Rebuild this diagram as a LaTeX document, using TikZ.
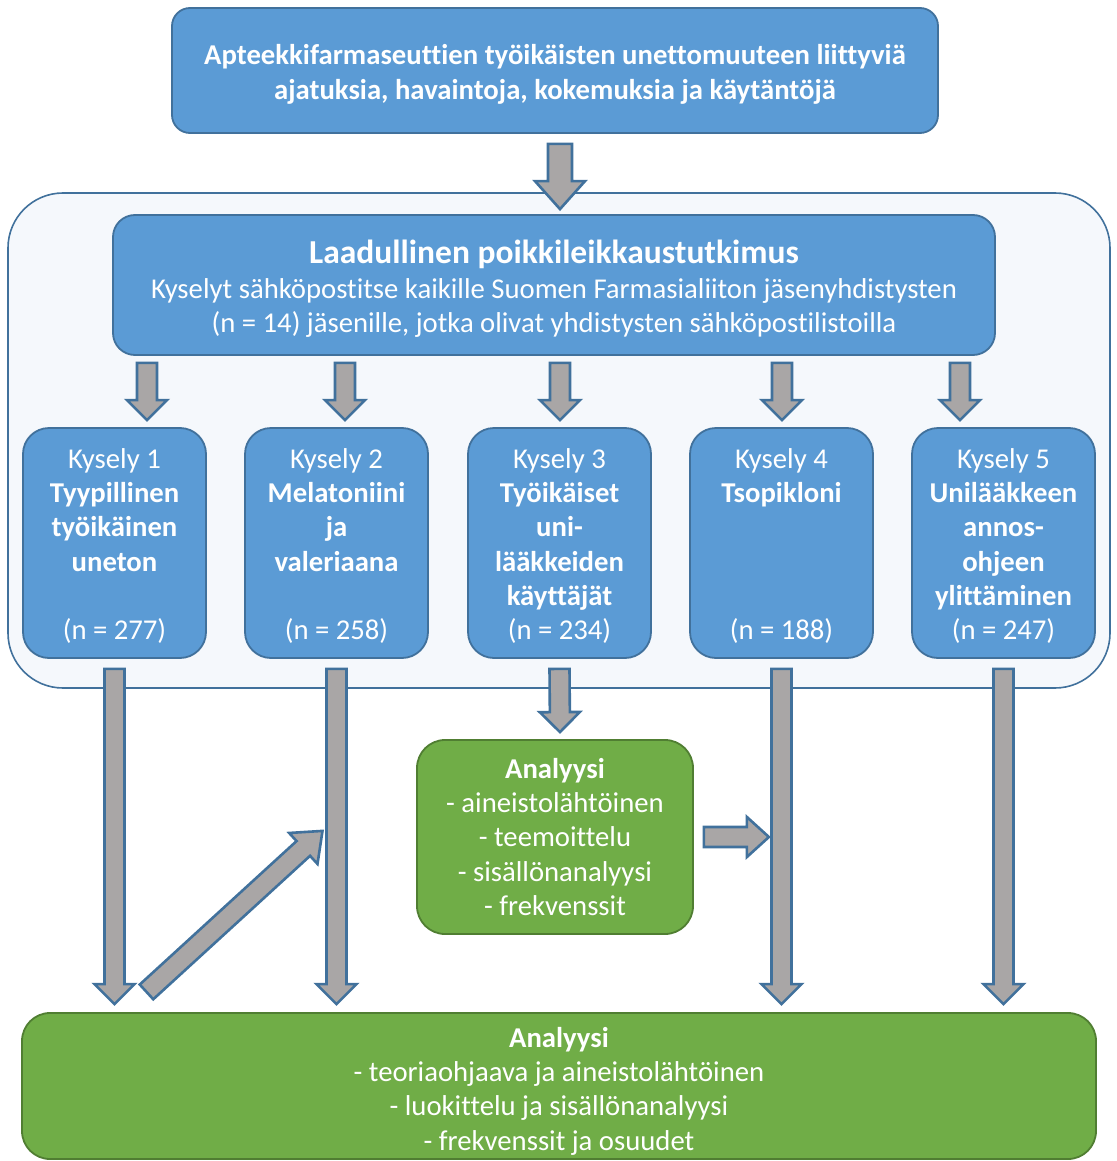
\documentclass[tikz,border=0pt]{standalone}
\usepackage{fontspec}
\setmainfont{Carlito}[Ligatures=NoCommon]
\usetikzlibrary{calc}
\definecolor{fillblue}{HTML}{5B9BD5}
\definecolor{bordblue}{HTML}{41719C}
\definecolor{outerfill}{HTML}{F5F8FC}
\definecolor{fillgreen}{HTML}{70AD47}
\definecolor{bordgreen}{HTML}{507E32}
\definecolor{arrgray}{HTML}{A9A6A6}
\tikzset{
  bluebox/.style={draw=bordblue, line width=1.8pt, fill=fillblue, text=white, align=center, inner sep=0pt, rounded corners=22pt},
  greenbox/.style={draw=bordgreen, line width=1.8pt, fill=fillgreen, text=white, align=center, inner sep=0pt, rounded corners=28pt},
  kysbox/.style={bluebox, minimum width=183pt, minimum height=230pt, rounded corners=26pt},
  blockarr/.style={draw=bordblue, line width=2.6pt, fill=arrgray, line join=miter},
  bodyfont/.style={font=\fontsize{28.7}{34.3}\selectfont},
}
\newcommand\barrow[5]{%
  \coordinate (baS) at #1;
  \coordinate (baE) at #2;
  \coordinate (baN) at ($(baE)!#5!(baS)$);
  \draw[blockarr] ($(baS)!#3!90:(baE)$) -- ($(baN)!#3!90:(baE)$) -- ($(baN)!#4!90:(baE)$) -- (baE)
     -- ($(baN)!#4!-90:(baE)$) -- ($(baN)!#3!-90:(baE)$) -- ($(baS)!#3!-90:(baE)$) -- cycle;
}
\begin{document}
\begin{tikzpicture}[x=1pt, y=-1pt]
\useasboundingbox (0,0) rectangle (1116,1161);
% outer container
\node[draw=bordblue, line width=1.6pt, fill=outerfill, rounded corners=55pt, minimum width=1102pt, minimum height=495pt, inner sep=0pt] (outer) at (559,440.5) {};
% top box
\node[bluebox, rounded corners=18pt, minimum width=766pt, minimum height=125pt, font=\fontsize{28.7}{35}\selectfont\bfseries] (top) at (555,70.5)
  {\rule{0pt}{28pt}Apteekkifarmaseuttien työikäisten unettomuuteen liittyviä\\ajatuksia, havaintoja, kokemuksia ja käytäntöjä};
% lead box
\node[bluebox, minimum width=882pt, minimum height=140pt, font=\fontsize{28.7}{34.5}\selectfont] (lead) at (554,285)
  {\rule{0pt}{31pt}{\fontsize{33.5}{38}\selectfont\bfseries Laadullinen poikkileikkaustutkimus}\\[0pt]
   Kyselyt sähköpostitse kaikille Suomen Farmasialiiton jäsenyhdistysten\\
   (n = 14) jäsenille, jotka olivat yhdistysten sähköpostilistoilla};
% kysely boxes
\node[kysbox, bodyfont] (k1) at (114.5,543) {\rule{0pt}{26pt}Kysely 1\\\textbf{Tyypillinen}\\\textbf{työikäinen}\\\textbf{uneton}\\~\\(n = 277)};
\node[kysbox, bodyfont] (k2) at (336.5,543) {\rule{0pt}{26pt}Kysely 2\\\textbf{Melatoniini}\\\textbf{ja}\\\textbf{valeriaana}\\~\\(n = 258)};
\node[kysbox, bodyfont] (k3) at (559.5,543) {\rule{0pt}{26pt}Kysely 3\\\textbf{Työikäiset}\\\textbf{uni-}\\\textbf{lääkkeiden}\\\textbf{käyttäjät}\\(n = 234)};
\node[kysbox, bodyfont] (k4) at (781.5,543) {\rule{0pt}{26pt}Kysely 4\\\textbf{Tsopikloni}\\~\\~\\~\\(n = 188)};
\node[kysbox, bodyfont] (k5) at (1003.5,543) {\rule{0pt}{26pt}Kysely 5\\\textbf{Unilääkkeen}\\\textbf{annos-}\\\textbf{ohjeen}\\\textbf{ylittäminen}\\(n = 247)};
% middle analysis
\node[greenbox, minimum width=276pt, minimum height=194pt, bodyfont] (mid) at (555,837)
  {\textbf{Analyysi}\\- aineistolähtöinen\\- teemoittelu\\- sisällönanalyysi\\- frekvenssit};
% bottom analysis
\node[greenbox, minimum width=1074pt, minimum height=146pt, bodyfont] (bot) at (559,1086)
  {\rule{0pt}{30pt}\textbf{Analyysi}\\- teoriaohjaava ja aineistolähtöinen\\- luokittelu ja sisällönanalyysi\\- frekvenssit ja osuudet};
% arrows
\barrow{($(top.south)+(5,10)$)}{($(lead.north)+(6,-5)$)}{12pt}{25pt}{28pt}
\foreach \x in {147,345,560,782,960}{
  \barrow{($(lead.south)+(\x-554,7)$)}{($(k1.north)+(\x-114.5,-7)$)}{10pt}{20pt}{20pt}
}
\barrow{($(k1.south)+(0,10)$)}{($(k1.south |- bot.north)+(0,-8)$)}{10pt}{20pt}{20pt}
\barrow{($(k2.south)+(0,10)$)}{($(k2.south |- bot.north)+(0,-8)$)}{10pt}{20pt}{20pt}
\barrow{($(k4.south)+(0,10)$)}{($(k4.south |- bot.north)+(0,-8)$)}{10pt}{20pt}{20pt}
\barrow{($(k5.south)+(0,10)$)}{($(k5.south |- bot.north)+(0,-8)$)}{10pt}{20pt}{20pt}
\barrow{($(k3.south)+(0,10)$)}{($(mid.north)+(5,-7)$)}{10pt}{20pt}{20pt}
\barrow{($(mid.east)+(10,0)$)}{($(mid.east)+(75,0)$)}{10pt}{20pt}{22pt}
\barrow{($(k1.south)+(32,333)$)}{($(k2.south)+(-14,172)$)}{10pt}{21pt}{26pt}
\end{tikzpicture}
\end{document}
